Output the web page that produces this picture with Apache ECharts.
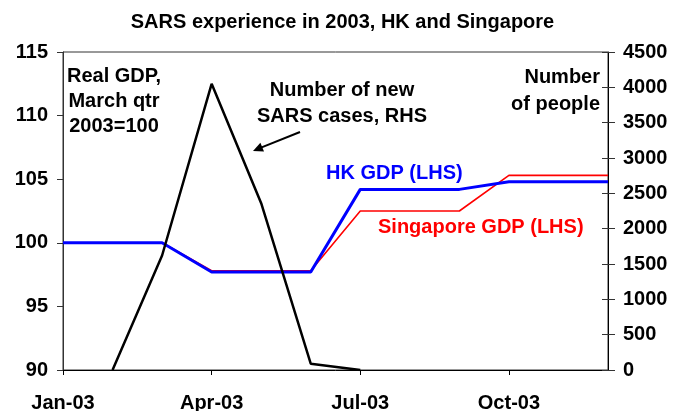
<!DOCTYPE html>
<html>
<head>
<meta charset="utf-8">
<script src="https://cdn.jsdelivr.net/npm/echarts@6/dist/echarts.min.js"></script>
<style>
  html, body { margin: 0; padding: 0; background: #fff; }
  #chart { width: 685px; height: 411px; }
</style>
</head>
<body>
<div id="chart"></div>
<script>
// monthly data, 2003
var months = ['Jan-03', 'Feb-03', 'Mar-03', 'Apr-03', 'May-03', 'Jun-03',
              'Jul-03', 'Aug-03', 'Sep-03', 'Oct-03', 'Nov-03', 'Dec-03'];
var hkGdp = [100, 100, 100, 97.7, 97.7, 97.7, 104.2, 104.2, 104.2, 104.8, 104.8, 104.8];
var sgGdp = [100, 100, 100, 97.8, 97.8, 97.8, 102.5, 102.5, 102.5, 105.3, 105.3, 105.3];
var sarsCases = [null, 0, 1620, 4050, 2360, 90, 0, null, null, null, null, null];

var font = "'Liberation Sans', Arial, sans-serif";
var txt = { fontFamily: font, fontSize: 20, fontWeight: 'bold', fill: '#000', textVerticalAlign: 'top' };

function note(x, y, style) {
  return { type: 'text', x: x, y: y, style: Object.assign({}, txt, style) };
}

var chart = echarts.init(document.getElementById('chart'));
chart.setOption({
  animation: false,
  backgroundColor: '#fff',
  title: {
    text: 'SARS experience in 2003, HK and Singapore',
    left: 'center',
    top: 7,
    textStyle: { fontFamily: font, fontSize: 20, fontWeight: 'bold', color: '#000' }
  },
  grid: {
    left: 63, right: 77, top: 52, bottom: 41,
    outerBoundsMode: 'none',
    show: true, borderColor: '#333', borderWidth: 1
  },
  xAxis: {
    type: 'category',
    data: months,
    boundaryGap: false,
    axisLine: { lineStyle: { color: '#000', width: 1 } },
    axisTick: { interval: 2, length: 5, lineStyle: { color: '#000' } },
    axisLabel: {
      interval: 2, margin: 23,
      fontFamily: font, fontSize: 20, fontWeight: 'bold', color: '#000'
    },
    splitLine: { show: false }
  },
  yAxis: [{
    type: 'value', position: 'left',
    min: 90, max: 115, interval: 5,
    axisLine: { show: true, lineStyle: { color: '#333' } },
    axisTick: { show: true, length: 6, lineStyle: { color: '#333' } },
    axisLabel: { margin: 15, fontFamily: font, fontSize: 20, fontWeight: 'bold', color: '#000' },
    splitLine: { show: false }
  }, {
    type: 'value', position: 'right',
    min: 0, max: 4500, interval: 500,
    axisLine: { show: true, lineStyle: { color: '#000' } },
    axisTick: { show: true, length: 7, lineStyle: { color: '#333' } },
    axisLabel: {
      margin: 15, fontFamily: font, fontSize: 20, fontWeight: 'bold', color: '#000',
      formatter: function (v) { return String(v); }
    },
    splitLine: { show: false }
  }, {
    // inner half of the right-hand tick marks
    type: 'value', position: 'right',
    min: 0, max: 4500, interval: 500,
    axisLine: { show: false },
    axisTick: { show: true, inside: true, length: 6, lineStyle: { color: '#333' } },
    axisLabel: { show: false },
    splitLine: { show: false }
  }],
  series: [{
    name: 'Singapore GDP (LHS)', type: 'line', yAxisIndex: 0,
    data: sgGdp, symbol: 'none',
    lineStyle: { color: '#ff0000', width: 1.6 }
  }, {
    name: 'HK GDP (LHS)', type: 'line', yAxisIndex: 0,
    data: hkGdp, symbol: 'none',
    lineStyle: { color: '#0000ff', width: 3 }
  }, {
    name: 'Number of new SARS cases, RHS', type: 'line', yAxisIndex: 1,
    data: sarsCases, symbol: 'none',
    lineStyle: { color: '#000', width: 2.5 }
  }],
  graphic: [
    note(114, 64, { text: 'Real GDP,\nMarch qtr\n2003=100', textAlign: 'center', lineHeight: 25 }),
    note(342, 77, { text: 'Number of new\nSARS cases, RHS', textAlign: 'center', lineHeight: 26 }),
    note(600, 64, { text: 'Number\nof people', textAlign: 'right', lineHeight: 27 }),
    note(326, 163, { text: 'HK GDP (LHS)', fill: '#0000ff' }),
    note(378, 217, { text: 'Singapore GDP (LHS)', fill: '#ff0000' }),
    { type: 'line', shape: { x1: 300, y1: 132, x2: 261, y2: 147.6 },
      style: { stroke: '#000', lineWidth: 2 } },
    { type: 'polygon', shape: { points: [[253, 151], [264, 151.6], [260.4, 142.8]] },
      style: { fill: '#000' } }
  ]
});
</script>
</body>
</html>
